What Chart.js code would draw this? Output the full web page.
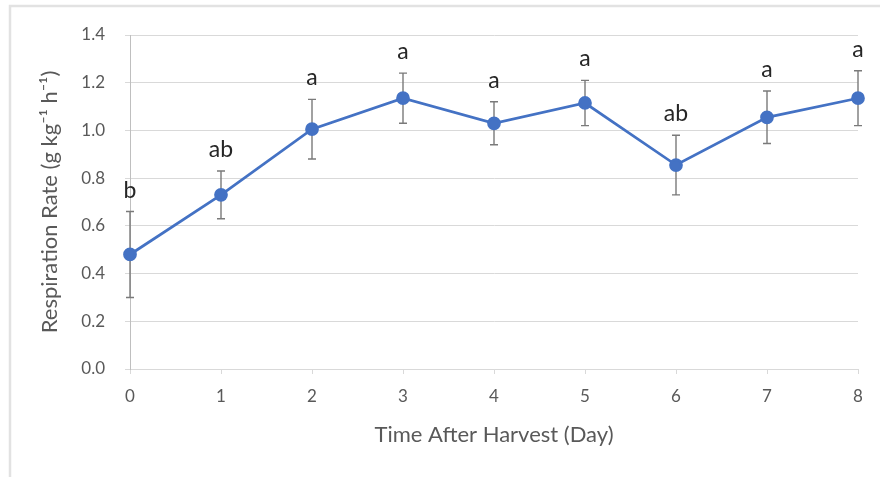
<!DOCTYPE html>
<html><head><meta charset="utf-8">
<script src="https://cdn.jsdelivr.net/npm/chart.js@4/dist/chart.umd.min.js"></script>
<style>html,body{margin:0;padding:0;background:#fff;overflow:hidden;}</style>
</head><body>
<canvas id="c" width="880" height="477"></canvas>
<script>
// ---- data ----
const days = ['0', '1', '2', '3', '4', '5', '6', '7', '8'];
const rate = [0.48, 0.73, 1.005, 1.135, 1.03, 1.115, 0.855, 1.055, 1.135];
const rateErr = [0.18, 0.10, 0.125, 0.105, 0.09, 0.095, 0.125, 0.11, 0.115];
const letters = ['b', 'ab', 'a', 'a', 'a', 'a', 'ab', 'a', 'a'];
const yMin = 0, yMax = 1.4, yStep = 0.2;
const xTitle = 'Time After Harvest (Day)';
const yTitle = 'Respiration Rate (g kg\u207B\u00B9 h\u207B\u00B9)';

const FONT = 'Lato, "Open Sans", sans-serif';

const frame = {
  id: 'frame',
  beforeDraw(chart) {
    const ctx = chart.ctx;
    ctx.save();
    ctx.fillStyle = '#fff';
    ctx.fillRect(0, 0, chart.width, chart.height);
    ctx.strokeStyle = '#e2e2e2';
    ctx.lineWidth = 2.5;
    ctx.beginPath();
    ctx.moveTo(10, chart.height);
    ctx.lineTo(10, 6);
    ctx.lineTo(chart.width, 6);
    ctx.stroke();
    ctx.restore();
  }
};

const errorBars = {
  id: 'errorBars',
  beforeDatasetsDraw(chart) {
    const ctx = chart.ctx, xs = chart.scales.x, ys = chart.scales.y;
    ctx.save();
    ctx.strokeStyle = '#7a7a7a';
    ctx.lineWidth = 1.4;
    rate.forEach((v, i) => {
      const x = xs.getPixelForValue(i);
      const yt = ys.getPixelForValue(v + rateErr[i]);
      const yb = ys.getPixelForValue(v - rateErr[i]);
      ctx.beginPath();
      ctx.moveTo(x, yt); ctx.lineTo(x, yb);
      ctx.moveTo(x - 4, yt); ctx.lineTo(x + 4, yt);
      ctx.moveTo(x - 4, yb); ctx.lineTo(x + 4, yb);
      ctx.stroke();
    });
    ctx.restore();
  },
  afterDatasetsDraw(chart) {
    const ctx = chart.ctx, xs = chart.scales.x, ys = chart.scales.y;
    ctx.save();
    ctx.fillStyle = '#262626';
    ctx.font = '23px ' + FONT;
    ctx.textAlign = 'center';
    ctx.textBaseline = 'alphabetic';
    rate.forEach((v, i) => {
      const x = xs.getPixelForValue(i);
      const yt = ys.getPixelForValue(v + rateErr[i]);
      ctx.fillText(letters[i], x, yt - 14);
    });
    ctx.restore();
  }
};

new Chart(document.getElementById('c'), {
  type: 'line',
  data: {
    labels: days,
    datasets: [{
      data: rate,
      borderColor: '#4472C4',
      backgroundColor: '#4472C4',
      borderWidth: 2.75,
      pointRadius: 5.5,
      pointHoverRadius: 5.5,
      tension: 0,
      fill: false
    }]
  },
  options: {
    responsive: false,
    animation: false,
    events: [],
    layout: { padding: { left: 0, right: 22, top: 35, bottom: 0 } },
    plugins: { legend: { display: false }, tooltip: { enabled: false } },
    scales: {
      x: {
        type: 'category',
        offset: false,
        grid: { display: true, drawOnChartArea: false, drawTicks: true, tickLength: 5, color: '#d9d9d9' },
        border: { display: true, color: '#d9d9d9' },
        ticks: { color: '#595959', font: { family: FONT, size: 17 }, padding: 12, maxRotation: 0, autoSkip: false },
        title: { display: true, text: xTitle, color: '#595959', font: { family: FONT, size: 22 }, padding: { top: 0, bottom: 29 } },
        afterFit(s) { s.height = 108; }
      },
      y: {
        min: yMin, max: yMax,
        grid: { color: '#d9d9d9', drawTicks: true, tickLength: 5 },
        border: { display: true, color: '#bfbfbf' },
        ticks: { stepSize: yStep, color: '#595959', font: { family: FONT, size: 17 }, padding: 20,
                 callback: v => Number(v).toFixed(1) },
        title: { display: true, text: yTitle, color: '#595959', font: { family: FONT, size: 22 }, padding: { top: 37, bottom: 0 } },
        afterFit(s) { s.width = 130; }
      }
    }
  },
  plugins: [frame, errorBars]
});
</script>
</body></html>
